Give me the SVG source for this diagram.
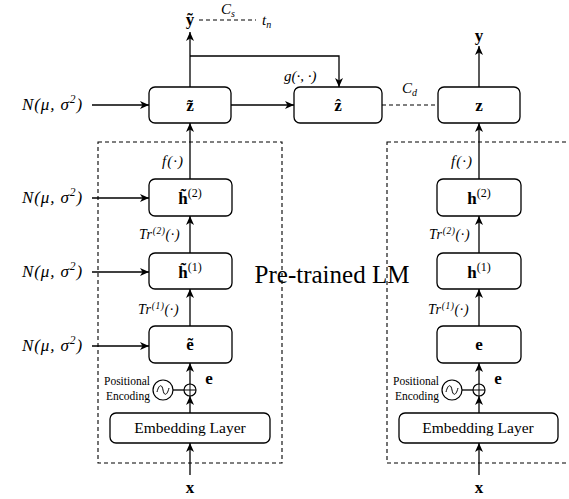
<svg xmlns="http://www.w3.org/2000/svg" width="569" height="499" viewBox="0 0 569 499" font-family="'Liberation Serif', 'Times New Roman', serif">
<style>
.box{fill:#fff;stroke:#000;stroke-width:1.3}
.dash{fill:none;stroke:#000;stroke-width:1.1;stroke-dasharray:4,3}
.ln{fill:none;stroke:#000;stroke-width:1.3}
.arr{fill:none;stroke:#000;stroke-width:1.3;marker-end:url(#ah)}
text{font-family:'Liberation Serif','Times New Roman',serif}
.m{font-style:italic;font-size:15px}
.ms{font-style:italic;font-size:14px;letter-spacing:0.6px}
.b{font-weight:bold;font-size:17px;text-anchor:middle}
.t{font-size:15.5px;text-anchor:middle}
.s{font-size:11.5px;text-anchor:end}
.n{font-style:italic;font-size:17px;letter-spacing:0.9px}
</style>
<defs>
<marker id="ah" markerWidth="10" markerHeight="10" refX="9" refY="4" orient="auto" markerUnits="userSpaceOnUse">
<path d="M0,0 L9,4 L0,8 L2.5,4 z" fill="#000"/>
</marker>
</defs>

<g id="frames">
<rect class="dash" x="98" y="142" width="184" height="321"/>
<rect class="dash" x="387" y="142" width="195" height="321"/>
<text x="332" y="283" font-size="25" text-anchor="middle">Pre-trained LM</text>
</g>

<g id="connectors">
<line class="arr" x1="190" y1="475" x2="190" y2="443"/>
<line class="arr" x1="190" y1="413" x2="190" y2="396"/>
<line class="arr" x1="190" y1="384" x2="190" y2="363"/>
<line class="arr" x1="190" y1="326" x2="190" y2="289"/>
<line class="arr" x1="190" y1="253" x2="190" y2="216"/>
<line class="arr" x1="190" y1="179" x2="190" y2="123"/>
<line class="arr" x1="190" y1="87" x2="190" y2="32"/>
<path class="arr" d="M190,56 H339 V87"/>
<line class="arr" x1="231" y1="105" x2="294" y2="105"/>
<line class="dash" x1="382" y1="105" x2="438" y2="105"/>
<line class="dash" x1="199" y1="20" x2="256" y2="20"/>
<line class="ln" x1="173" y1="390" x2="184" y2="390"/>
<line class="arr" x1="92" y1="105" x2="149" y2="105"/>
<line class="arr" x1="92" y1="198" x2="149" y2="198"/>
<line class="arr" x1="92" y1="272" x2="149" y2="272"/>
<line class="arr" x1="92" y1="346" x2="149" y2="346"/>

<line class="arr" x1="479" y1="475" x2="479" y2="443"/>
<line class="arr" x1="479" y1="413" x2="479" y2="396"/>
<line class="arr" x1="479" y1="384" x2="479" y2="363"/>
<line class="arr" x1="479" y1="326" x2="479" y2="289"/>
<line class="arr" x1="479" y1="253" x2="479" y2="216"/>
<line class="arr" x1="479" y1="179" x2="479" y2="123"/>
<line class="arr" x1="479" y1="87" x2="479" y2="46"/>
<line class="ln" x1="462" y1="390" x2="473" y2="390"/>
</g>

<g id="z_tilde"><rect class="box" x="149" y="87" width="82" height="36" rx="6"/><text class="b" x="190" y="111">z̃</text></g>
<g id="z_hat"><rect class="box" x="294" y="87" width="88" height="36" rx="6"/><text class="b" x="338" y="111">ẑ</text></g>
<g id="z"><rect class="box" x="438" y="87" width="82" height="36" rx="6"/><text class="b" x="479" y="111">z</text></g>

<g id="h2_tilde"><rect class="box" x="149" y="179" width="83" height="37" rx="6"/><text class="b" x="190" y="204">h̃<tspan font-weight="normal" font-size="12" dy="-7">(2)</tspan></text></g>
<g id="h1_tilde"><rect class="box" x="149" y="253" width="83" height="36" rx="6"/><text class="b" x="190" y="278">h̃<tspan font-weight="normal" font-size="12" dy="-7">(1)</tspan></text></g>
<g id="e_tilde"><rect class="box" x="149" y="326" width="83" height="37" rx="6"/><text class="b" x="190" y="350">ẽ</text></g>
<g id="emb_left"><rect class="box" x="110" y="413" width="160" height="30" rx="6"/><text class="t" x="190" y="433">Embedding Layer</text></g>
<g id="pe_left">
<circle cx="190" cy="390" r="6" fill="#fff" stroke="#000" stroke-width="1.2"/>
<path d="M184,390 H196 M190,384 V396" stroke="#000" stroke-width="1" fill="none"/>
<circle cx="163" cy="390" r="10" fill="#fff" stroke="#000" stroke-width="1.2"/>
<path d="M157,392 C159,384 162,384 163,390 C164,396 167,396 169,388" fill="none" stroke="#000" stroke-width="1"/>
<text class="s" x="150" y="385">Positional</text>
<text class="s" x="150" y="400">Encoding</text>
</g>

<g id="h2"><rect class="box" x="437" y="179" width="84" height="37" rx="6"/><text class="b" x="479" y="204">h<tspan font-weight="normal" font-size="12" dy="-7">(2)</tspan></text></g>
<g id="h1"><rect class="box" x="437" y="253" width="84" height="36" rx="6"/><text class="b" x="479" y="278">h<tspan font-weight="normal" font-size="12" dy="-7">(1)</tspan></text></g>
<g id="e"><rect class="box" x="437" y="326" width="84" height="37" rx="6"/><text class="b" x="479" y="350" font-size="15">e</text></g>
<g id="emb_right"><rect class="box" x="399" y="413" width="159" height="30" rx="6"/><text class="t" x="478" y="433">Embedding Layer</text></g>
<g id="pe_right">
<circle cx="479" cy="390" r="6" fill="#fff" stroke="#000" stroke-width="1.2"/>
<path d="M473,390 H485 M479,384 V396" stroke="#000" stroke-width="1" fill="none"/>
<circle cx="452" cy="390" r="10" fill="#fff" stroke="#000" stroke-width="1.2"/>
<path d="M446,392 C448,384 451,384 452,390 C453,396 456,396 458,388" fill="none" stroke="#000" stroke-width="1"/>
<text class="s" x="439" y="385">Positional</text>
<text class="s" x="439" y="400">Encoding</text>
</g>

<g id="labels">
<text class="b" x="190" y="25">ỹ</text>
<text class="m" x="221" y="14">C<tspan font-size="10" dy="3">s</tspan></text>
<text class="m" x="262" y="25">t<tspan font-size="10" dy="3">n</tspan></text>
<text class="m" x="284" y="81">g(·, ·)</text>
<text class="m" x="402" y="93">C<tspan font-size="10" dy="3">d</tspan></text>
<text class="b" x="479" y="41">y</text>
<text class="m" x="162" y="166" font-size="16" letter-spacing="1">f(·)</text>
<text class="m" x="451" y="166" font-size="16" letter-spacing="1">f(·)</text>
<text class="ms" x="139" y="239">Tr<tspan font-size="9.5" dy="-5">(2)</tspan><tspan dy="5">(·)</tspan></text>
<text class="ms" x="138" y="314">Tr<tspan font-size="9.5" dy="-5">(1)</tspan><tspan dy="5">(·)</tspan></text>
<text class="ms" x="429" y="239">Tr<tspan font-size="9.5" dy="-5">(2)</tspan><tspan dy="5">(·)</tspan></text>
<text class="ms" x="428" y="314">Tr<tspan font-size="9.5" dy="-5">(1)</tspan><tspan dy="5">(·)</tspan></text>
<text class="b" x="209" y="384" font-size="15">e</text>
<text class="b" x="498" y="384" font-size="15">e</text>
<text class="b" x="190" y="493" font-size="15">x</text>
<text class="b" x="479" y="493" font-size="15">x</text>
<text class="n" x="22" y="110">N(μ, σ<tspan font-size="11.5" dy="-7">2</tspan><tspan dy="7">)</tspan></text>
<text class="n" x="22" y="203">N(μ, σ<tspan font-size="11.5" dy="-7">2</tspan><tspan dy="7">)</tspan></text>
<text class="n" x="22" y="277">N(μ, σ<tspan font-size="11.5" dy="-7">2</tspan><tspan dy="7">)</tspan></text>
<text class="n" x="22" y="351">N(μ, σ<tspan font-size="11.5" dy="-7">2</tspan><tspan dy="7">)</tspan></text>
</g>
</svg>
